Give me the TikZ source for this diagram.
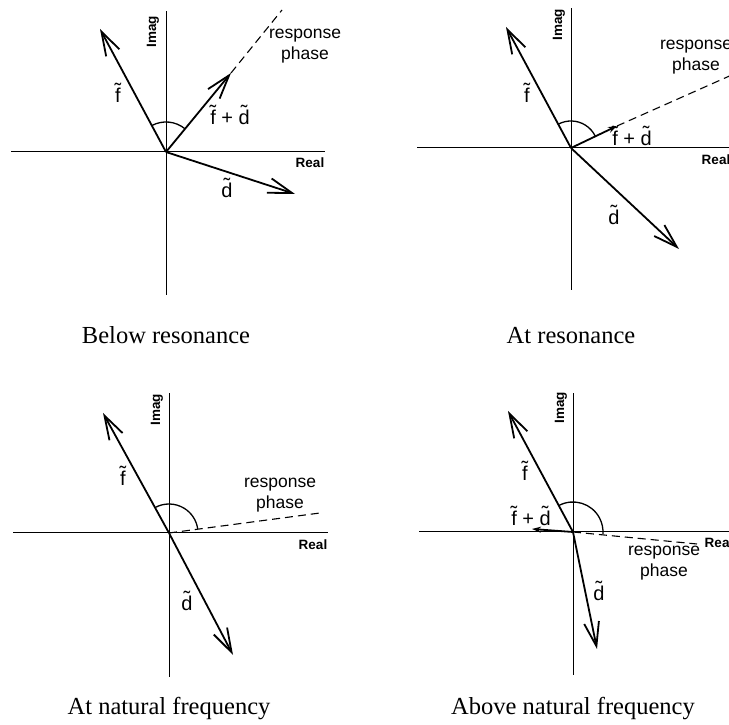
\documentclass[tikz,border=0pt]{standalone}
\usepackage{fontspec}
\setmainfont{Liberation Serif}
\setsansfont{Liberation Sans}
\usetikzlibrary{arrows.meta}
% small tilde set above a letter
\newcommand\tildeover[1]{\setbox0\hbox{#1}\rlap{\hbox to \wd0{\hss\raisebox{0.26em}{\char"02DC}\hss}}\box0\relax}
\tikzset{
  phasoraxis/.style={line width=1pt, draw=black},
  phasorvec/.style={line width=1.8pt, -{Straight Barb[length=24pt, width=15pt]}},
  smallvec/.style={line width=1.8pt, -{Stealth[length=9pt, width=6pt]}},
  phaseline/.style={line width=1.1pt, dash pattern=on 8pt off 5pt},
  phasearc/.style={line width=1.3pt},
  axistext/.style={font=\sffamily\bfseries\fontsize{13.5}{15}\selectfont, inner sep=0pt},
  vectext/.style={font=\sffamily\fontsize{20}{22}\selectfont, inner sep=0pt},
  phasetext/.style={font=\sffamily\fontsize{17.5}{21}\selectfont, align=center, inner sep=0pt},
  captiontext/.style={font=\fontsize{24.5}{28}\selectfont, anchor=base}
}

\begin{document}
\begin{tikzpicture}[x=1pt,y=1pt]
  \useasboundingbox (0,0) rectangle (729,725);

  % Below resonance
  \begin{scope}[shift={(166,573)}]
    \coordinate (o1) at (0,0);
    \coordinate (xl1) at (-155,0);
    \coordinate (xr1) at (159,0);
    \coordinate (yb1) at (0,-143);
    \coordinate (yt1) at (0,141);
    \coordinate (f1) at (-66,123);
    \coordinate (fd1) at (65,79);
    \coordinate (d1) at (129,-42);
    \coordinate (ph1) at (116,142);
    \draw[phasoraxis] (xl1) -- (xr1);
    \draw[phasoraxis] (yb1) -- (yt1);
    \draw[phaseline] (fd1) -- (ph1);
    \draw[phasorvec] (o1) -- (f1);
    \draw[phasorvec] (o1) -- (fd1);
    \draw[phasorvec] (o1) -- (d1);
    \draw[phasearc] (o1) ++(118:30) arc[start angle=118, end angle=51, radius=30];
    \node[axistext, rotate=90] (im1) at (-13,120) {Imag};
    \node[axistext] (re1) at (144,-11) {Real};
    \node[vectext] (lf1) at (-48,59) {\tildeover{f}};
    \node[vectext] (lfd1) at (64,37) {\tildeover{f} + \tildeover{d}};
    \node[vectext] (ld1) at (61,-36) {\tildeover{d}};
    \node[phasetext] (rp1) at (139,106) {response\\phase};
  \end{scope}
  \node[captiontext] (cap1) at (166,381.5) {Below resonance};

  % At resonance
  \begin{scope}[shift={(571,577)}]
    \coordinate (o2) at (0,0);
    \coordinate (xl2) at (-154,0);
    \coordinate (xr2) at (170,0);
    \coordinate (yb2) at (0,-142);
    \coordinate (yt2) at (0,140);
    \coordinate (f2) at (-65,121);
    \coordinate (fd2) at (46,22);
    \coordinate (d2) at (108,-101);
    \coordinate (ph2) at (172,78);
    \draw[phasoraxis] (xl2) -- (xr2);
    \draw[phasoraxis] (yb2) -- (yt2);
    \draw[phaseline] (fd2) -- (ph2);
    \draw[phasorvec] (o2) -- (f2);
    \draw[smallvec] (o2) -- (fd2);
    \draw[phasorvec] (o2) -- (d2);
    \draw[phasearc] (o2) ++(118:27) arc[start angle=118, end angle=26, radius=27];
    \node[axistext, rotate=90] (im2) at (-12,123) {Imag};
    \node[axistext] (re2) at (145,-12) {Real};
    \node[vectext] (lf2) at (-44,55) {\tildeover{f}};
    \node[vectext] (lfd2) at (61,12) {\tildeover{f} + \tildeover{d}};
    \node[vectext] (ld2) at (43,-67) {\tildeover{d}};
    \node[phasetext] (rp2) at (125,91) {response\\phase};
  \end{scope}
  \node[captiontext] (cap2) at (571,381.5) {At resonance};

  % At natural frequency
  \begin{scope}[shift={(169,192)}]
    \coordinate (o3) at (0,0);
    \coordinate (xl3) at (-156,0);
    \coordinate (xr3) at (159,0);
    \coordinate (yb3) at (0,-144);
    \coordinate (yt3) at (0,140);
    \coordinate (f3) at (-66,120);
    \coordinate (d3) at (64,-122);
    \coordinate (ph3) at (151,20);
    \draw[phasoraxis] (xl3) -- (xr3);
    \draw[phasoraxis] (yb3) -- (yt3);
    \draw[phaseline] (o3) -- (ph3);
    \draw[phasorvec] (o3) -- (f3);
    \draw[phasorvec] (o3) -- (d3);
    \draw[phasearc] (o3) ++(119:29) arc[start angle=119, end angle=8, radius=29];
    \node[axistext, rotate=90] (im3) at (-12,123) {Imag};
    \node[axistext] (re3) at (144,-12) {Real};
    \node[vectext] (lf3) at (-46,57) {\tildeover{f}};
    \node[vectext] (ld3) at (18,-68) {\tildeover{d}};
    \node[phasetext] (rp3) at (111,37.5) {response\\phase};
  \end{scope}
  \node[captiontext] (cap3) at (169,10) {At natural frequency};

  % Above natural frequency
  \begin{scope}[shift={(573,193)}]
    \coordinate (o4) at (0,0);
    \coordinate (xl4) at (-154,0);
    \coordinate (xr4) at (170,0);
    \coordinate (yb4) at (0,-143);
    \coordinate (yt4) at (0,139);
    \coordinate (f4) at (-65,121);
    \coordinate (fd4) at (-41,3);
    \coordinate (d4) at (24,-117);
    \coordinate (ph4) at (124,-12);
    \draw[phasoraxis] (xl4) -- (xr4);
    \draw[phasoraxis] (yb4) -- (yt4);
    \draw[phaseline] (o4) -- (ph4);
    \draw[phasorvec] (o4) -- (f4);
    \draw[smallvec] (o4) -- (fd4);
    \draw[phasorvec] (o4) -- (d4);
    \draw[phasearc] (o4) ++(118:30) arc[start angle=118, end angle=-4, radius=30];
    \node[axistext, rotate=90] (im4) at (-12,124) {Imag};
    \node[axistext] (re4) at (146,-11) {Real};
    \node[vectext] (lf4) at (-48,61) {\tildeover{f}};
    \node[vectext] (lfd4) at (-42,16) {\tildeover{f} + \tildeover{d}};
    \node[vectext] (ld4) at (26,-59) {\tildeover{d}};
    \node[phasetext] (rp4) at (91,-31) {response\\phase};
  \end{scope}
  \node[captiontext] (cap4) at (573,10) {Above natural frequency};
\end{tikzpicture}
\end{document}
